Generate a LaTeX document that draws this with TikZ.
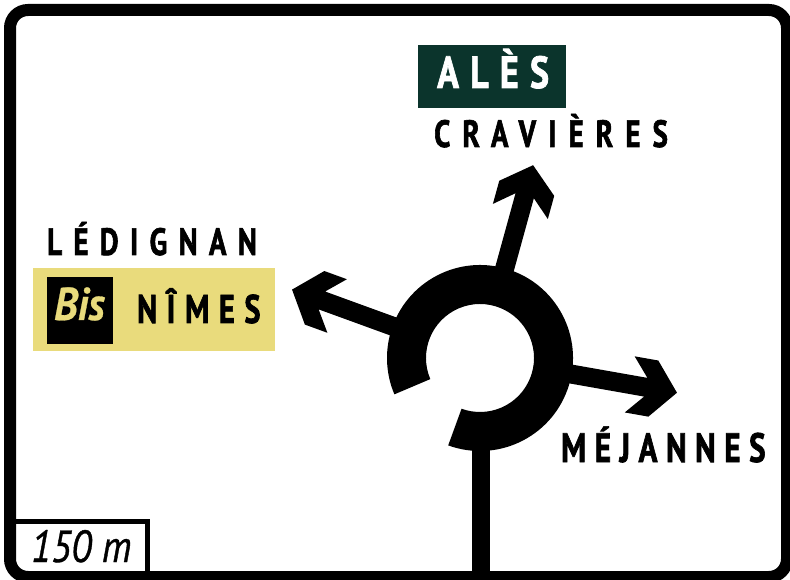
\documentclass[tikz,border=0pt]{standalone}
\usepackage{fontspec}
\usetikzlibrary{calc}
\newfontfamily\signfont{PT Sans}
\definecolor{signyellow}{RGB}{233,219,124}
\definecolor{alesgreen}{RGB}{11,52,44}
\tikzset{
  signtxt/.style={inner sep=0pt, anchor=base west, text=black},
  exitarrow/.pic={
    \fill[black] (75,9.5) -- (168.3,9.5) -- (152,28.5) -- (176,28.5) -- (200,0)
      -- (176,-28.5) -- (152,-28.5) -- (168.3,-9.5) -- (75,-9.5) -- cycle;
  }
}
\newcommand{\sgn}[4]{{\signfont\bfseries\fontsize{#1}{#1}\selectfont\addfontfeature{LetterSpace=#2,FakeStretch=#3,FakeBold=1.6}#4}}
\begin{document}
\begin{tikzpicture}[x=1pt,y=1pt]
\useasboundingbox (0,0) rectangle (790,579);
\fill[white] (0,0) rectangle (790,579);
% frame
\draw[line width=12pt, rounded corners=18pt] (10,2) rectangle (787,569);
% distance panel
\draw[line width=5pt] (10,58) -- (147.5,58) -- (147.5,0);
\node[signtxt] (dist) at (31,17) {{\signfont\itshape\fontsize{45}{45}\selectfont\addfontfeature{FakeStretch=0.86,FakeBold=0.8}150 m}};
% roundabout
\coordinate (C) at (480,221);
\fill[black] ($(C)+(250:93)$) arc[start angle=250, end angle=563, radius=93]
  -- ($(C)+(563:54)$) arc[start angle=563, end angle=250, radius=54] -- cycle;
\fill[black] (472,-5) rectangle (490,140);
\pic[rotate=74.6] at (C) {exitarrow};
\pic[rotate=160] at (C) {exitarrow};
\pic[rotate=-10] at (C) {exitarrow};
% ALES panel
\fill[alesgreen] (418,471) rectangle (566,534);
\node[signtxt, text=white] (ales) at (437,491) {\sgn{45}{25}{0.8}{ALÈS}};
\node[signtxt] (crav) at (434,432) {\sgn{38}{32}{0.76}{CRAVIÈRES}};
% left
\node[signtxt] (ledi) at (47,324) {\sgn{38}{30}{0.76}{LÉDIGNAN}};
\fill[signyellow] (33,228) rectangle (275,311);
\fill[black] (47,235) rectangle (113,302);
\node[signtxt, text=signyellow] (bis) at (54,259) {{\signfont\bfseries\itshape\fontsize{46}{46}\selectfont\addfontfeature{FakeStretch=0.9,FakeBold=0.6}Bis}};
\node[signtxt] (nimes) at (137,256) {\sgn{40}{24}{0.76}{NÎMES}};
% right
\node[signtxt] (mej) at (561,117) {\sgn{41}{21}{0.76}{MÉJANNES}};
\end{tikzpicture}
\end{document}
